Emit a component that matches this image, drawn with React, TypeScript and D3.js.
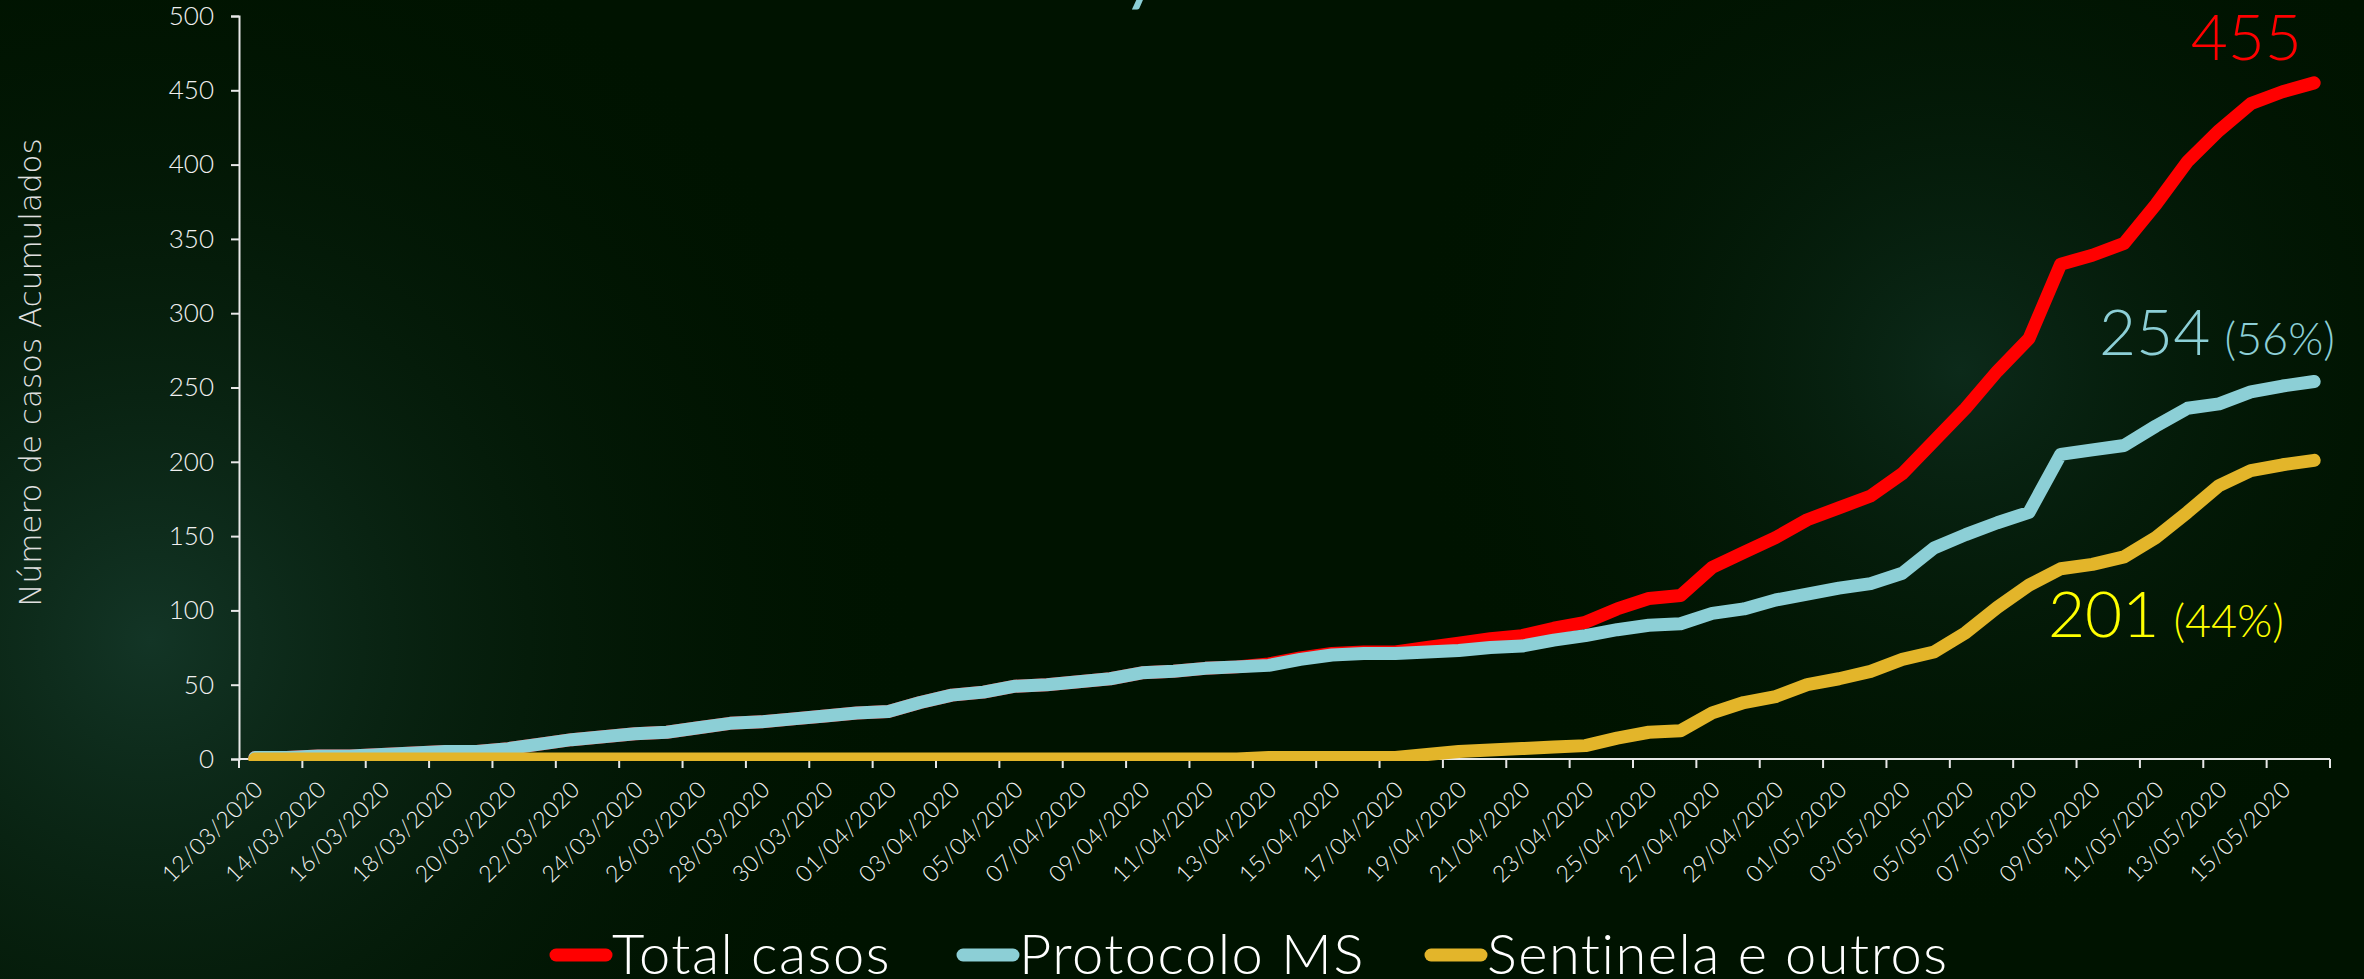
import React, { useEffect, useRef } from 'react';
import * as d3 from 'd3';

const dates = [
  "12/03/2020", "13/03/2020", "14/03/2020", "15/03/2020", "16/03/2020", "17/03/2020", "18/03/2020",
  "19/03/2020", "20/03/2020", "21/03/2020", "22/03/2020", "23/03/2020", "24/03/2020", "25/03/2020",
  "26/03/2020", "27/03/2020", "28/03/2020", "29/03/2020", "30/03/2020", "31/03/2020",
  "01/04/2020", "02/04/2020", "03/04/2020", "04/04/2020", "05/04/2020", "06/04/2020", "07/04/2020",
  "08/04/2020", "09/04/2020", "10/04/2020", "11/04/2020", "12/04/2020", "13/04/2020", "14/04/2020",
  "15/04/2020", "16/04/2020", "17/04/2020", "18/04/2020", "19/04/2020", "20/04/2020", "21/04/2020",
  "22/04/2020", "23/04/2020", "24/04/2020", "25/04/2020", "26/04/2020", "27/04/2020", "28/04/2020",
  "29/04/2020", "30/04/2020",
  "01/05/2020", "02/05/2020", "03/05/2020", "04/05/2020", "05/05/2020", "06/05/2020", "07/05/2020",
  "08/05/2020", "09/05/2020", "10/05/2020", "11/05/2020", "12/05/2020", "13/05/2020", "14/05/2020",
  "15/05/2020", "16/05/2020"
];

const totalCasos = [
  1, 1, 2, 2, 3, 4, 5, 5, 7, 10, 13, 15, 17, 18, 21, 24, 25, 27, 29, 31,
  32, 38, 43, 45, 49, 50, 52, 54, 58, 59, 61, 62, 64, 68, 71, 72, 72, 75, 78, 81,
  83, 88, 92, 101, 108, 110, 129, 139, 149, 161, 169, 177, 192, 214, 236, 261, 283, 333, 339, 347,
  373, 402, 423, 441, 449, 455
];

const protocoloMS = [
  1, 1, 2, 2, 3, 4, 5, 5, 7, 10, 13, 15, 17, 18, 21, 24, 25, 27, 29, 31,
  32, 38, 43, 45, 49, 50, 52, 54, 58, 59, 61, 62, 63, 67, 70, 71, 71, 72, 73, 75,
  76, 80, 83, 87, 90, 91, 98, 101, 107, 111, 115, 118, 125, 142, 151, 159, 166, 205, 208, 211,
  224, 236, 239, 247, 251, 254
];

const sentinela = [
  0, 0, 0, 0, 0, 0, 0, 0, 0, 0, 0, 0, 0, 0, 0, 0, 0, 0, 0, 0,
  0, 0, 0, 0, 0, 0, 0, 0, 0, 0, 0, 0, 1, 1, 1, 1, 1, 3, 5, 6,
  7, 8, 9, 14, 18, 19, 31, 38, 42, 50, 54, 59, 67, 72, 85, 102, 117, 128, 131, 136,
  149, 166, 184, 194, 198, 201
];

const yTicks = [0, 50, 100, 150, 200, 250, 300, 350, 400, 450, 500];

const seriesNames = ["Total casos", "Protocolo MS", "Sentinela e outros"];
const seriesColors = ["#ff0000", "#8ccfd6", "#e3b52a"];

const App: React.FC = () => {
  const ref = useRef<SVGSVGElement | null>(null);

  useEffect(() => {
    if (!ref.current) return;
    const width = 2364;
    const height = 979;
    const margin = { top: 16, right: 34, bottom: 220, left: 239 };
    const font = "Lato, 'DejaVu Sans', sans-serif";

    const svg = d3.select(ref.current).attr("width", width).attr("height", height);
    svg.selectAll("*").remove();

    const defs = svg.append("defs");
    const glowL = defs.append("radialGradient").attr("id", "glowL")
      .attr("gradientUnits", "userSpaceOnUse").attr("cx", 150).attr("cy", 640).attr("r", 780);
    glowL.append("stop").attr("offset", "0%").attr("stop-color", "#133526");
    glowL.append("stop").attr("offset", "100%").attr("stop-color", "#001300").attr("stop-opacity", 0);
    const glowR = defs.append("radialGradient").attr("id", "glowR")
      .attr("gradientUnits", "userSpaceOnUse").attr("cx", 1960).attr("cy", 370).attr("r", 560);
    glowR.append("stop").attr("offset", "0%").attr("stop-color", "#0c2a1a");
    glowR.append("stop").attr("offset", "100%").attr("stop-color", "#001300").attr("stop-opacity", 0);

    defs.append("clipPath").attr("id", "plotClip").append("rect")
      .attr("x", 0).attr("y", 0).attr("width", width).attr("height", height - margin.bottom + 2);

    svg.append("rect").attr("width", width).attr("height", height).attr("fill", "#001300");
    svg.append("rect").attr("width", width).attr("height", height).attr("fill", "url(#glowL)");
    svg.append("rect").attr("width", width).attr("height", height).attr("fill", "url(#glowR)");

    // cut-off title fragment
    svg.append("text")
      .attr("x", 1122).attr("y", -4)
      .attr("font-family", font).attr("font-size", 78)
      .attr("fill", "#8ccfd6")
      .text("y");

    const x = d3.scaleBand<string>()
      .domain(dates)
      .range([margin.left, width - margin.right]);
    const y = d3.scaleLinear()
      .domain([0, 500])
      .range([height - margin.bottom, margin.top]);
    const cx = (d: string) => (x(d) || 0) + x.bandwidth() / 2;

    // y axis
    const yAxis = d3.axisLeft(y).tickValues(yTicks).tickSize(8).tickPadding(17);
    const gy = svg.append("g").attr("transform", `translate(${margin.left},0)`).call(yAxis);
    gy.select(".domain").attr("stroke", "#e8e8e8").attr("stroke-width", 2);
    gy.selectAll(".tick line").attr("stroke", "#e8e8e8").attr("stroke-width", 2);
    gy.selectAll(".tick text")
      .attr("fill", "#f0f0f0").attr("font-family", font).attr("font-weight", 300)
      .attr("font-size", 26);

    svg.append("text")
      .attr("transform", `translate(30,${(margin.top + height - margin.bottom) / 2 - 15}) rotate(-90)`)
      .attr("text-anchor", "middle")
      .attr("dy", "0.35em")
      .attr("font-family", "'DejaVu Sans', sans-serif").attr("font-weight", 200)
      .attr("font-size", 31)
      .attr("fill", "#e0e0e0")
      .text("Número de casos Acumulados");

    // x axis
    const y0 = y(0);
    svg.append("line")
      .attr("x1", margin.left).attr("x2", width - margin.right)
      .attr("y1", y0).attr("y2", y0)
      .attr("stroke", "#e8e8e8").attr("stroke-width", 2);
    const step = x.step();
    const tickIdx = d3.range(0, dates.length + 1, 2);
    svg.append("g").selectAll("line").data(tickIdx).enter().append("line")
      .attr("x1", k => margin.left + k * step).attr("x2", k => margin.left + k * step)
      .attr("y1", y0).attr("y2", y0 + 9)
      .attr("stroke", "#e8e8e8").attr("stroke-width", 2);

    const labelDates = dates.filter((d, i) => i % 2 === 0);
    svg.append("g").selectAll("text").data(labelDates).enter().append("text")
      .attr("transform", d => `translate(${cx(d) + 4},${y0 + 26}) rotate(-45)`)
      .attr("text-anchor", "end")
      .attr("dy", "0.35em")
      .attr("font-family", font).attr("font-weight", 300)
      .attr("font-size", 23)
      .attr("letter-spacing", 0.5)
      .attr("fill", "#f4f4f4")
      .text(d => d);

    // lines
    const line = d3.line<number>()
      .x((d, i) => cx(dates[i]))
      .y(d => y(d));
    const plot = svg.append("g").attr("clip-path", "url(#plotClip)");
    [totalCasos, protocoloMS, sentinela].forEach((s, k) => {
      plot.append("path")
        .attr("d", line(s))
        .attr("fill", "none")
        .attr("stroke", seriesColors[k])
        .attr("stroke-width", 13)
        .attr("stroke-linejoin", "round")
        .attr("stroke-linecap", "round");
    });

    // end annotations
    svg.append("text")
      .attr("x", 2302).attr("y", 60)
      .attr("text-anchor", "end")
      .attr("font-family", font).attr("font-weight", 300).attr("font-size", 64)
      .attr("fill", "#ff0000")
      .text("455");

    const a2 = svg.append("text")
      .attr("x", 2099).attr("y", 355)
      .attr("font-family", font).attr("font-weight", 300)
      .attr("fill", "#8ccfd6");
    a2.append("tspan").attr("font-size", 64).text("254");
    a2.append("tspan").attr("font-size", 45).attr("dx", 14).text("(56%)");

    const a3 = svg.append("text")
      .attr("x", 2048).attr("y", 637)
      .attr("font-family", font).attr("font-weight", 300)
      .attr("fill", "#ffff00");
    a3.append("tspan").attr("font-size", 64).text("201");
    a3.append("tspan").attr("font-size", 45).attr("dx", 14).text("(44%)");

    // legend
    const legendX = [550, 957, 1425];
    const legendY = 955;
    const lg = svg.append("g");
    seriesNames.forEach((name, k) => {
      lg.append("line")
        .attr("x1", legendX[k] + 6).attr("x2", legendX[k] + 56)
        .attr("y1", legendY).attr("y2", legendY)
        .attr("stroke", seriesColors[k]).attr("stroke-width", 13)
        .attr("stroke-linecap", "round");
      lg.append("text")
        .attr("x", legendX[k] + 62).attr("y", legendY + 19)
        .attr("font-family", font).attr("font-weight", 300).attr("font-size", 56)
        .attr("letter-spacing", 1.5)
        .attr("fill", "#ffffff")
        .text(name);
    });
  }, []);

  return <svg ref={ref} style={{ position: 'fixed', left: 0, top: 0, display: 'block' }}></svg>;
};

export default App;
